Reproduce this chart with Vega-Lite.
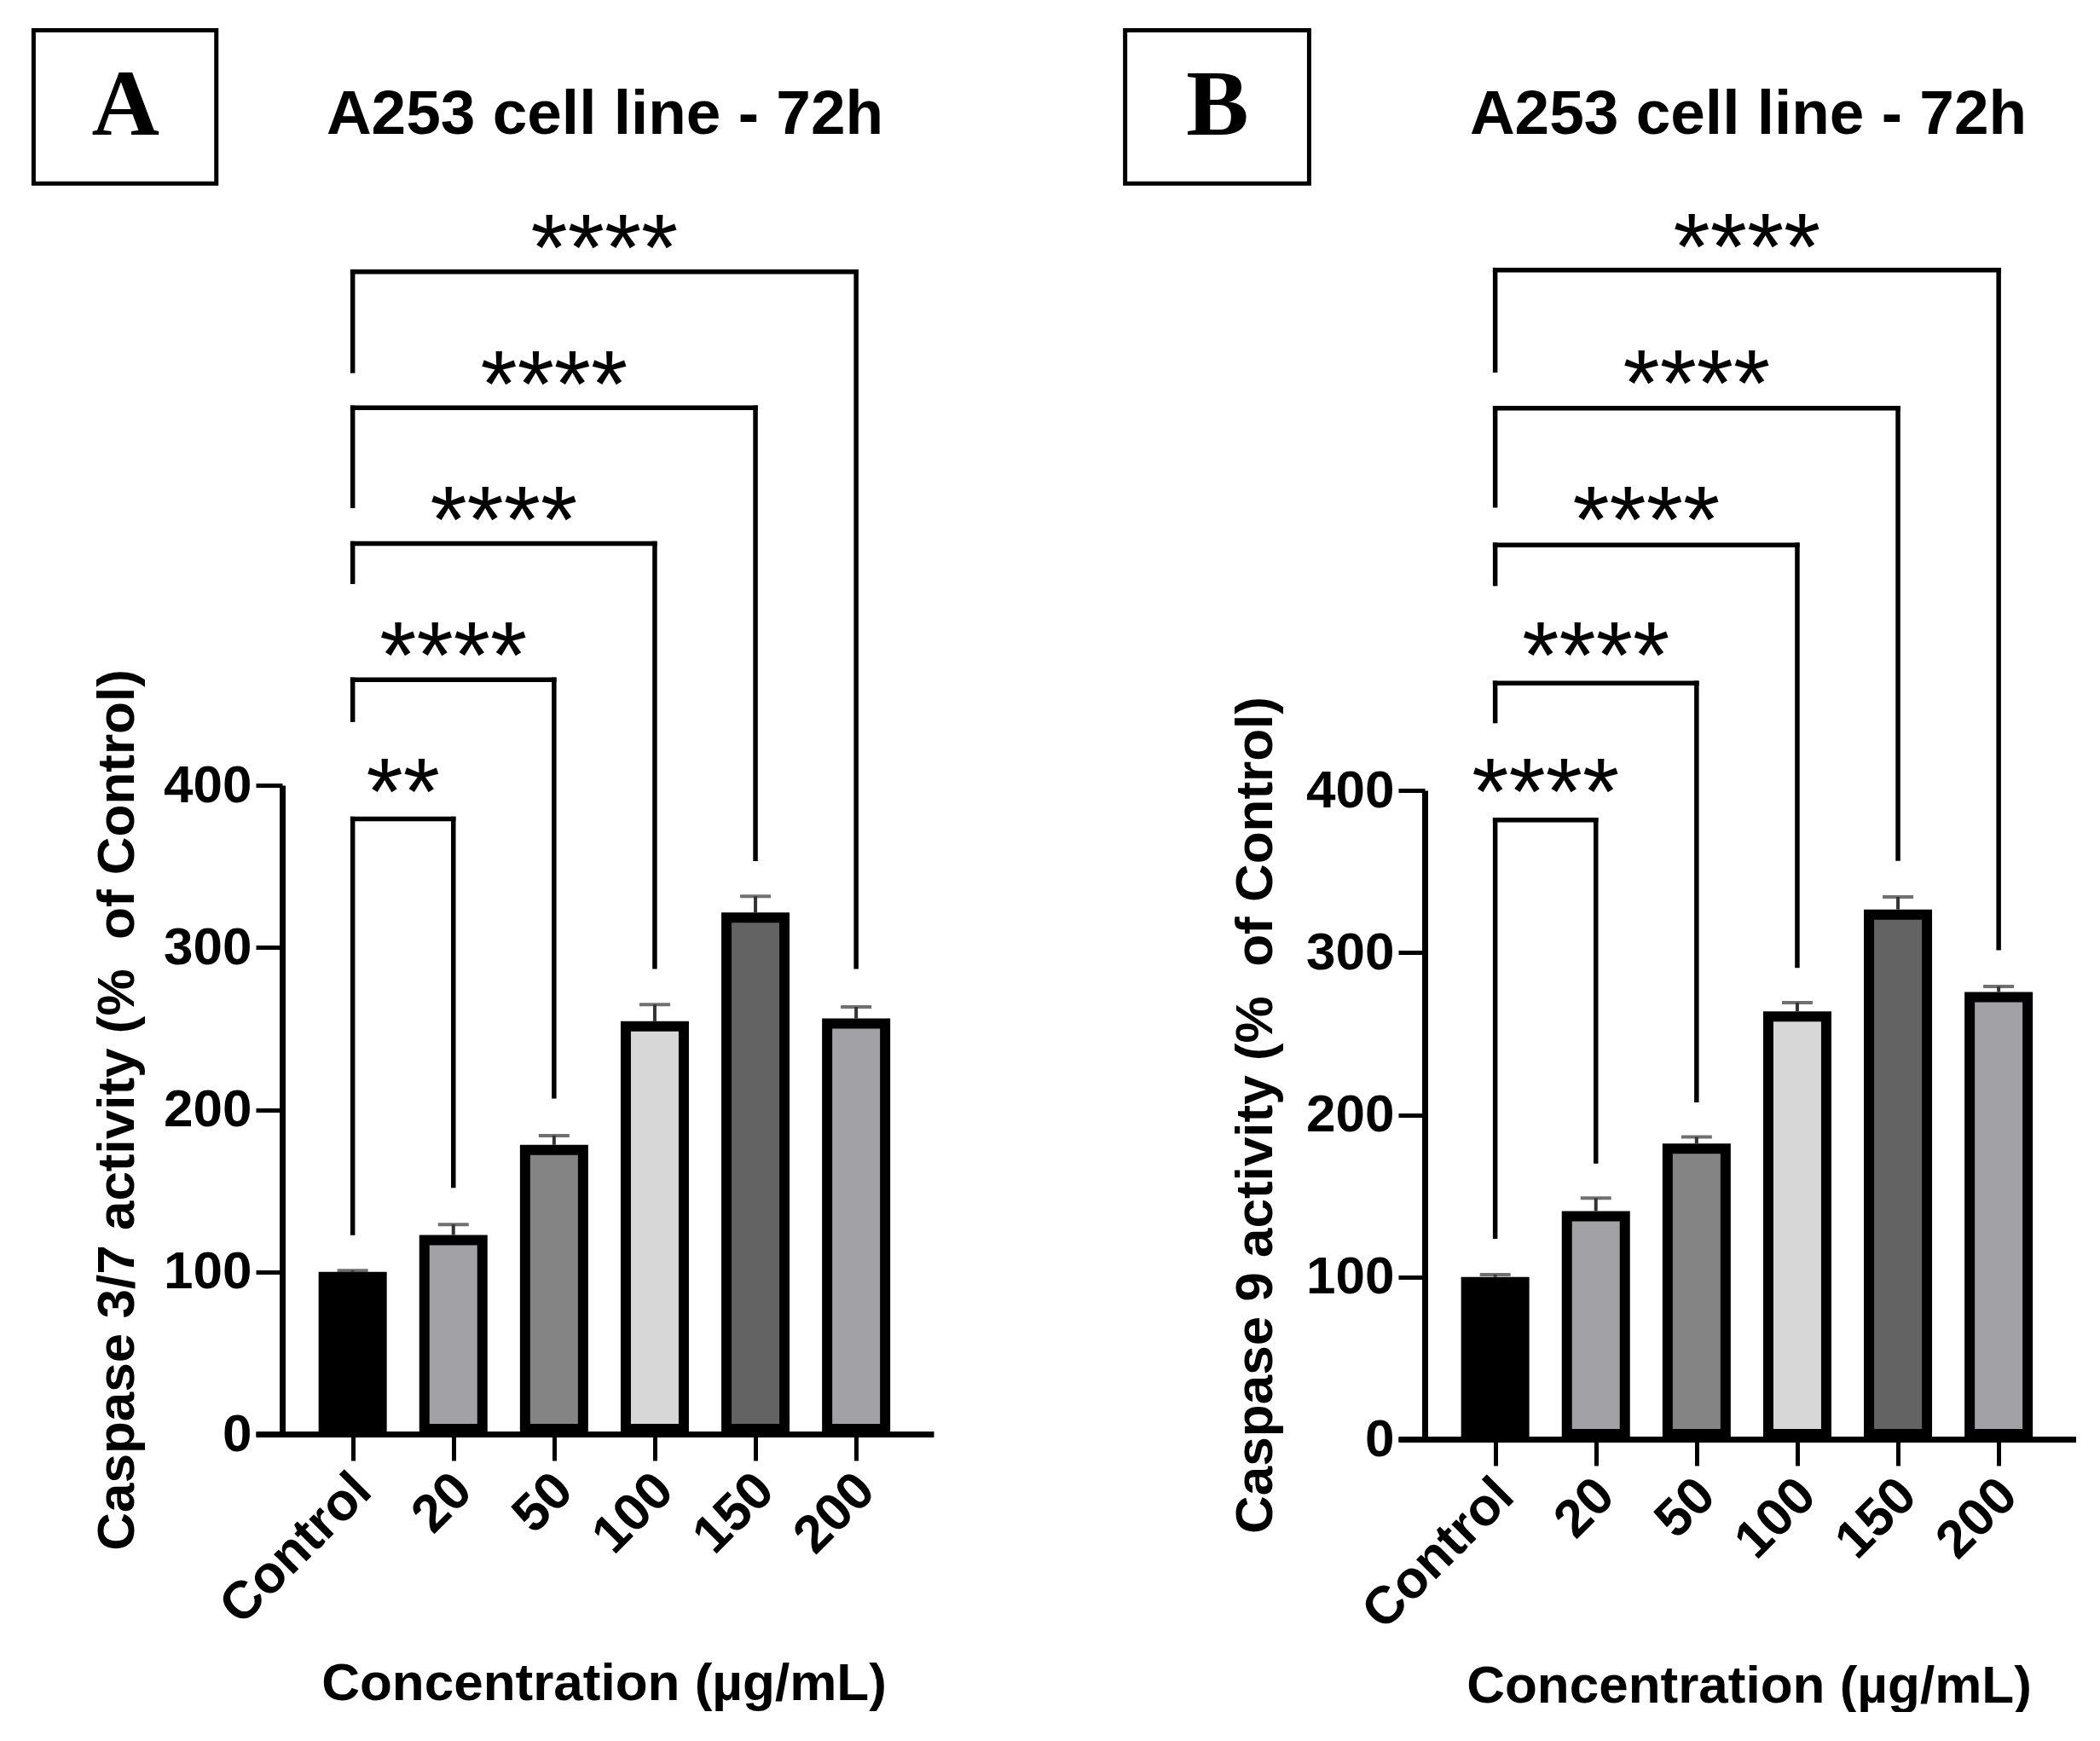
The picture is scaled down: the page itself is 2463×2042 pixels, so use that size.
{
  "$schema": "https://vega.github.io/schema/vega-lite/v6.json",
  "padding": {"left": 36, "top": 32, "right": 0, "bottom": 0},
  "background": "white",
  "config": {
    "font": "Liberation Sans",
    "view": {"stroke": null},
    "axis": {
      "grid": false,
      "domainColor": "black",
      "tickColor": "black",
      "labelColor": "black",
      "titleColor": "black",
      "labelFont": "Liberation Sans",
      "titleFont": "Liberation Sans",
      "labelFontWeight": "bold",
      "titleFontWeight": "bold",
      "labelFontSize": 62,
      "titleFontSize": 62,
      "labelLimit": 0,
      "domainWidth": 7,
      "tickWidth": 5,
      "tickSize": 31,
      "zindex": 1
    }
  },
  "datasets": {
    "barsA": [
      {"conc": "Control", "idx": 0, "mean": 100, "upper": 100.8},
      {"conc": "20", "idx": 1, "mean": 122.7, "upper": 129.2},
      {"conc": "50", "idx": 2, "mean": 178.3, "upper": 184},
      {"conc": "100", "idx": 3, "mean": 254.5, "upper": 264.8},
      {"conc": "150", "idx": 4, "mean": 321.5, "upper": 331.5},
      {"conc": "200", "idx": 5, "mean": 256.2, "upper": 263.3}
    ],
    "sigA": [
      {"from": 0, "to": 1, "mid": 0.5, "h": 379.2, "left": 124, "right": 153.2, "stars": "**", "starY": 404.7},
      {"from": 0, "to": 2, "mid": 1, "h": 465, "left": 440.4, "right": 208.3, "stars": "****", "starY": 488.7},
      {"from": 0, "to": 3, "mid": 1.5, "h": 549, "left": 525.5, "right": 288.2, "stars": "****", "starY": 572.3},
      {"from": 0, "to": 4, "mid": 2, "h": 632.7, "left": 572.3, "right": 354.6, "stars": "****", "starY": 656.2},
      {"from": 0, "to": 5, "mid": 2.5, "h": 716.6, "left": 655.5, "right": 288.2, "stars": "****", "starY": 740}
    ],
    "barsB": [
      {"conc": "Control", "idx": 0, "mean": 100, "upper": 101.4},
      {"conc": "20", "idx": 1, "mean": 140.6, "upper": 148.6},
      {"conc": "50", "idx": 2, "mean": 182.3, "upper": 186.3},
      {"conc": "100", "idx": 3, "mean": 263.7, "upper": 269.1},
      {"conc": "150", "idx": 4, "mean": 326.6, "upper": 334.3},
      {"conc": "200", "idx": 5, "mean": 275.7, "upper": 279.1}
    ],
    "sigB": [
      {"from": 0, "to": 1, "mid": 0.5, "h": 381.8, "left": 125, "right": 171.4, "stars": "****", "starY": 407.9},
      {"from": 0, "to": 2, "mid": 1, "h": 466.1, "left": 442.8, "right": 209.1, "stars": "****", "starY": 491.9},
      {"from": 0, "to": 3, "mid": 1.5, "h": 551.3, "left": 527.4, "right": 292, "stars": "****", "starY": 575.7},
      {"from": 0, "to": 4, "mid": 2, "h": 635.6, "left": 575.7, "right": 358, "stars": "****", "starY": 659.7},
      {"from": 0, "to": 5, "mid": 2.5, "h": 720.8, "left": 659, "right": 302.9, "stars": "****", "starY": 743.5}
    ]
  },
  "hconcat": [
    {
      "width": 795,
      "height": 761,
      "title": {"text": "A253 cell line - 72h", "font": "Liberation Sans", "fontSize": 73, "fontWeight": "bold", "color": "black", "frame": "group", "anchor": "middle", "baseline": "alphabetic", "offset": -197, "dx": 12},
      "layer": [
        {
          "data": {"name": "barsA"},
          "mark": {"type": "bar", "width": 68, "stroke": "black", "strokeWidth": 12, "yOffset": 6, "y2Offset": -6},
          "encoding": {
            "x": {"field": "idx", "type": "quantitative", "scale": {"domain": [-0.92, 5.727], "nice": false, "zero": false},
                  "axis": {"values": [0, 1, 2, 3, 4, 5], "labelExpr": "['Control','20','50','100','150','200'][datum.value]", "labelAngle": -45, "labelAlign": "right", "labelBaseline": "middle", "labelPadding": 25, "labelOffset": 11, "title": "Concentration (µg/mL)", "titleX": 408, "titleY": 311, "titleBaseline": "alphabetic"}},
            "y": {"field": "mean", "type": "quantitative", "scale": {"domain": [0, 400], "nice": false},
                  "axis": {"values": [0, 100, 200, 300, 400], "offset": -31, "labelPadding": 5, "title": "Caspase 3/7 activity (%\u00a0 of Control)", "titleX": -175, "titleBaseline": "alphabetic"}},
            "y2": {"datum": 0},
            "color": {"field": "conc", "type": "nominal", "scale": {"domain": ["Control", "20", "50", "100", "150", "200"], "range": ["#000000", "#a2a1a6", "#848484", "#d7d7d7", "#636363", "#a2a1a6"]}, "legend": null}
          }
        },
        {
          "data": {"name": "barsA"},
          "mark": {"type": "rule", "color": "#333333", "strokeWidth": 4},
          "encoding": {
            "x": {"field": "idx", "type": "quantitative"},
            "y": {"field": "mean", "type": "quantitative"},
            "y2": {"field": "upper"}
          }
        },
        {
          "data": {"name": "barsA"},
          "mark": {"type": "tick", "orient": "horizontal", "color": "#333333", "size": 36, "thickness": 4},
          "encoding": {
            "x": {"field": "idx", "type": "quantitative"},
            "y": {"field": "upper", "type": "quantitative"}
          }
        },
        {
          "data": {"name": "sigA"},
          "mark": {"type": "rule", "color": "black", "strokeWidth": 5.5, "strokeCap": "square"},
          "encoding": {
            "x": {"field": "from", "type": "quantitative"},
            "y": {"field": "left", "type": "quantitative"},
            "y2": {"field": "h"}
          }
        },
        {
          "data": {"name": "sigA"},
          "mark": {"type": "rule", "color": "black", "strokeWidth": 5.5, "strokeCap": "square"},
          "encoding": {
            "x": {"field": "from", "type": "quantitative"},
            "x2": {"field": "to"},
            "y": {"field": "h", "type": "quantitative"}
          }
        },
        {
          "data": {"name": "sigA"},
          "mark": {"type": "rule", "color": "black", "strokeWidth": 5.5, "strokeCap": "square"},
          "encoding": {
            "x": {"field": "to", "type": "quantitative"},
            "y": {"field": "right", "type": "quantitative"},
            "y2": {"field": "h"}
          }
        },
        {
          "data": {"name": "sigA"},
          "mark": {"type": "text", "font": "Liberation Sans", "fontWeight": "normal", "fontSize": 111, "color": "black", "align": "center", "baseline": "middle", "dy": 22},
          "encoding": {
            "x": {"field": "mid", "type": "quantitative"},
            "y": {"field": "starY", "type": "quantitative"},
            "text": {"field": "stars"}
          }
        },
        {
          "data": {"values": [{"panel": "A"}]},
          "mark": {"type": "rect", "fill": "white", "fillOpacity": 0, "stroke": "black", "strokeWidth": 5},
          "encoding": {
            "x": {"datum": -3.169, "type": "quantitative"},
            "x2": {"datum": -1.354},
            "y": {"datum": 865.5, "type": "quantitative"},
            "y2": {"datum": 771}
          }
        },
        {
          "data": {"values": [{"panel": "A"}]},
          "mark": {"type": "text", "font": "Liberation Serif", "fontWeight": "bold", "fontSize": 110, "color": "black", "align": "center", "baseline": "middle"},
          "encoding": {
            "x": {"datum": -2.257, "type": "quantitative"},
            "y": {"datum": 818.3, "type": "quantitative"},
            "text": {"field": "panel"}
          }
        }
      ]
    },
    {
      "width": 795,
      "height": 767,
      "title": {"text": "A253 cell line - 72h", "font": "Liberation Sans", "fontSize": 73, "fontWeight": "bold", "color": "black", "frame": "group", "anchor": "middle", "baseline": "alphabetic", "offset": -197, "dx": 13},
      "layer": [
        {
          "data": {"name": "barsB"},
          "mark": {"type": "bar", "width": 68, "stroke": "black", "strokeWidth": 12, "yOffset": 6, "y2Offset": -6},
          "encoding": {
            "x": {"field": "idx", "type": "quantitative", "scale": {"domain": [-0.92, 5.727], "nice": false, "zero": false},
                  "axis": {"values": [0, 1, 2, 3, 4, 5], "labelExpr": "['Control','20','50','100','150','200'][datum.value]", "labelAngle": -45, "labelAlign": "right", "labelBaseline": "middle", "labelPadding": 25, "labelOffset": 11, "title": "Concentration (µg/mL)", "titleX": 411, "titleY": 308, "titleBaseline": "alphabetic"}},
            "y": {"field": "mean", "type": "quantitative", "scale": {"domain": [0, 400], "nice": false, "range": [767, 6]},
                  "axis": {"values": [0, 100, 200, 300, 400], "offset": -31, "labelPadding": 5, "title": "Caspase 9 activity (%\u00a0 of Control)", "titleX": -180, "titleBaseline": "alphabetic"}},
            "y2": {"datum": 0},
            "color": {"field": "conc", "type": "nominal", "scale": {"domain": ["Control", "20", "50", "100", "150", "200"], "range": ["#000000", "#a2a1a6", "#848484", "#d7d7d7", "#636363", "#a2a1a6"]}, "legend": null}
          }
        },
        {
          "data": {"name": "barsB"},
          "mark": {"type": "rule", "color": "#333333", "strokeWidth": 4},
          "encoding": {
            "x": {"field": "idx", "type": "quantitative"},
            "y": {"field": "mean", "type": "quantitative"},
            "y2": {"field": "upper"}
          }
        },
        {
          "data": {"name": "barsB"},
          "mark": {"type": "tick", "orient": "horizontal", "color": "#333333", "size": 36, "thickness": 4},
          "encoding": {
            "x": {"field": "idx", "type": "quantitative"},
            "y": {"field": "upper", "type": "quantitative"}
          }
        },
        {
          "data": {"name": "sigB"},
          "mark": {"type": "rule", "color": "black", "strokeWidth": 5.5, "strokeCap": "square"},
          "encoding": {
            "x": {"field": "from", "type": "quantitative"},
            "y": {"field": "left", "type": "quantitative"},
            "y2": {"field": "h"}
          }
        },
        {
          "data": {"name": "sigB"},
          "mark": {"type": "rule", "color": "black", "strokeWidth": 5.5, "strokeCap": "square"},
          "encoding": {
            "x": {"field": "from", "type": "quantitative"},
            "x2": {"field": "to"},
            "y": {"field": "h", "type": "quantitative"}
          }
        },
        {
          "data": {"name": "sigB"},
          "mark": {"type": "rule", "color": "black", "strokeWidth": 5.5, "strokeCap": "square"},
          "encoding": {
            "x": {"field": "to", "type": "quantitative"},
            "y": {"field": "right", "type": "quantitative"},
            "y2": {"field": "h"}
          }
        },
        {
          "data": {"name": "sigB"},
          "mark": {"type": "text", "font": "Liberation Sans", "fontWeight": "normal", "fontSize": 111, "color": "black", "align": "center", "baseline": "middle", "dy": 22},
          "encoding": {
            "x": {"field": "mid", "type": "quantitative"},
            "y": {"field": "starY", "type": "quantitative"},
            "text": {"field": "stars"}
          }
        },
        {
          "data": {"values": [{"panel": "B"}]},
          "mark": {"type": "rect", "fill": "white", "fillOpacity": 0, "stroke": "black", "strokeWidth": 5},
          "encoding": {
            "x": {"datum": -3.675, "type": "quantitative"},
            "x2": {"datum": -1.848},
            "y": {"datum": 868.65, "type": "quantitative"},
            "y2": {"datum": 774.15}
          }
        },
        {
          "data": {"values": [{"panel": "B"}]},
          "mark": {"type": "text", "font": "Liberation Serif", "fontWeight": "bold", "fontSize": 110, "color": "black", "align": "center", "baseline": "middle"},
          "encoding": {
            "x": {"datum": -2.759, "type": "quantitative"},
            "y": {"datum": 821.45, "type": "quantitative"},
            "text": {"field": "panel"}
          }
        }
      ]
    }
  ],
  "spacing": 222
}
